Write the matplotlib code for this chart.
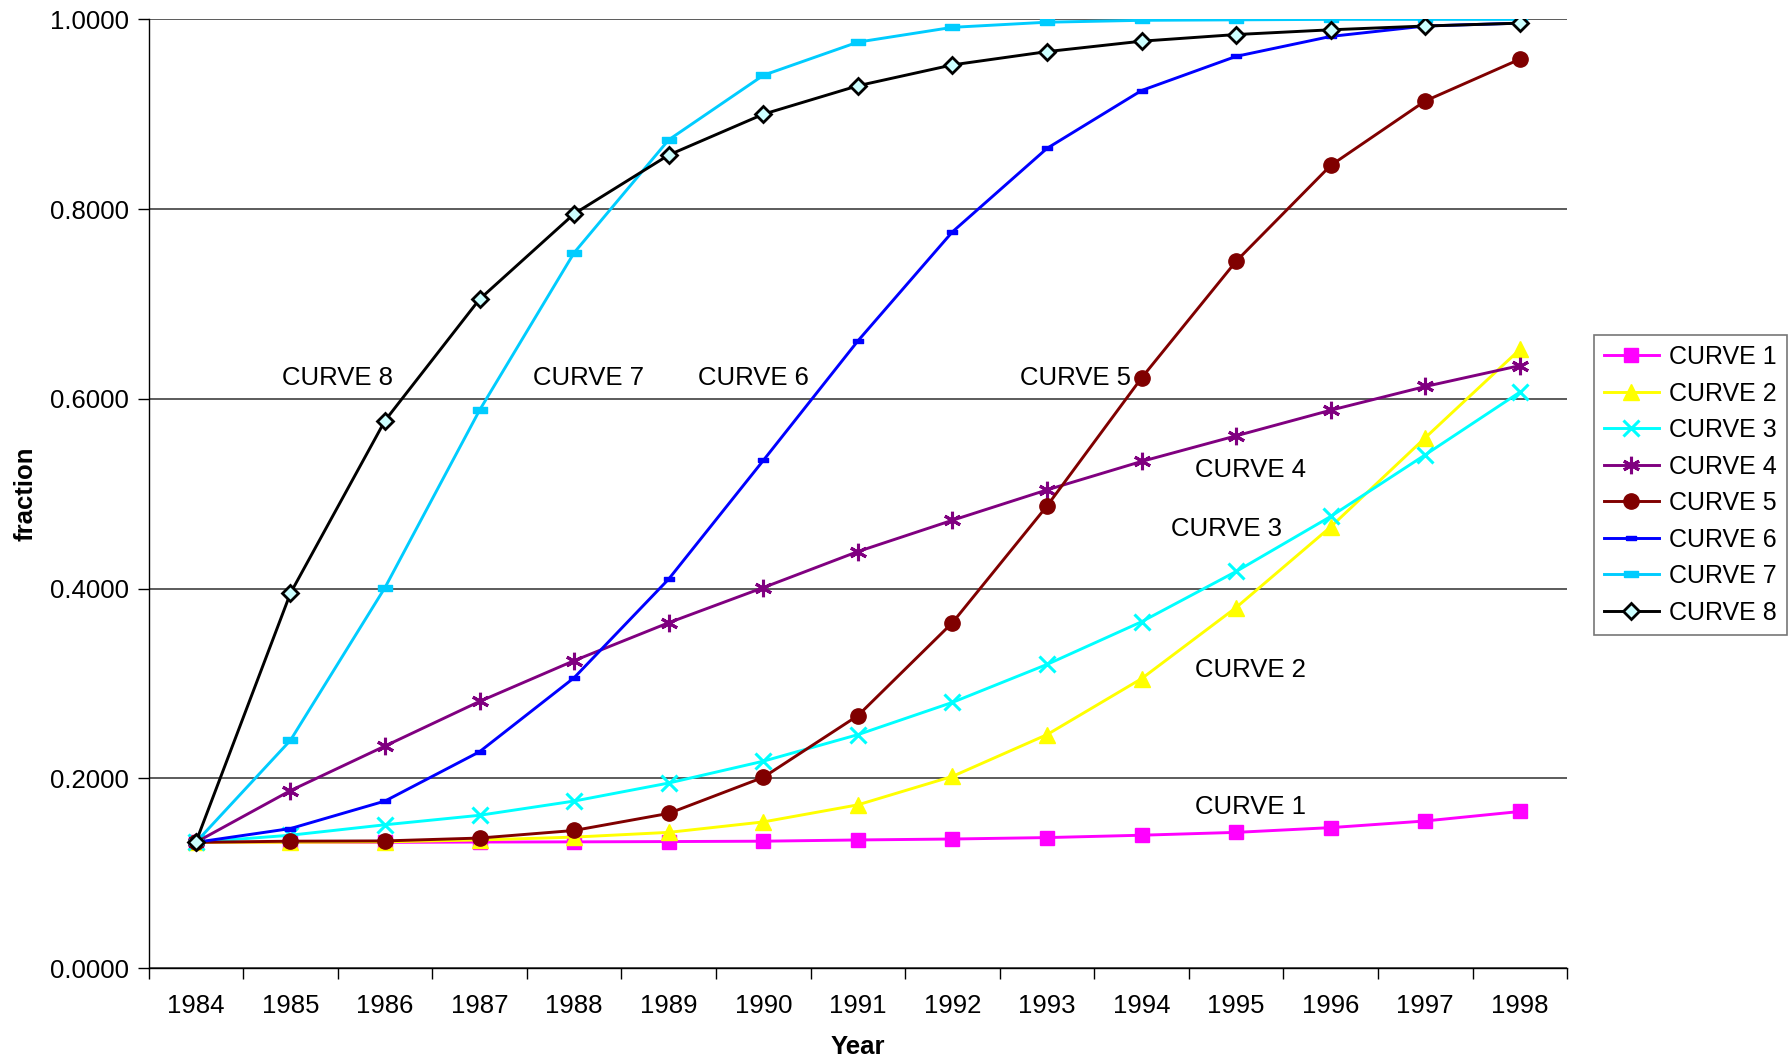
import matplotlib
matplotlib.use("Agg")
import matplotlib.pyplot as plt

plt.rcParams['font.family'] = ['Liberation Sans', 'DejaVu Sans']

years = ['1984', '1985', '1986', '1987', '1988', '1989', '1990', '1991',
         '1992', '1993', '1994', '1995', '1996', '1997', '1998']

curve1 = [0.1325, 0.1325, 0.1325, 0.1328, 0.1330, 0.1333, 0.1337, 0.1350,
          0.1360, 0.1375, 0.1400, 0.1430, 0.1480, 0.1550, 0.1650]
curve2 = [0.1325, 0.1325, 0.1330, 0.1350, 0.1380, 0.1430, 0.1540, 0.1720,
          0.2020, 0.2460, 0.3050, 0.3800, 0.4650, 0.5590, 0.6520]
curve3 = [0.1325, 0.1400, 0.1510, 0.1610, 0.1760, 0.1950, 0.2180, 0.2460,
          0.2800, 0.3200, 0.3650, 0.4180, 0.4760, 0.5410, 0.6070]
curve4 = [0.1325, 0.1870, 0.2340, 0.2810, 0.3240, 0.3640, 0.4010, 0.4390,
          0.4720, 0.5040, 0.5340, 0.5610, 0.5880, 0.6130, 0.6350]
curve5 = [0.1325, 0.1337, 0.1340, 0.1370, 0.1450, 0.1630, 0.2010, 0.2660,
          0.3640, 0.4870, 0.6220, 0.7450, 0.8460, 0.9140, 0.9580]
curve6 = [0.1325, 0.1470, 0.1760, 0.2280, 0.3060, 0.4100, 0.5350, 0.6610,
          0.7760, 0.8640, 0.9250, 0.9610, 0.9820, 0.9930, 0.9960]
curve7 = [0.1325, 0.2400, 0.4010, 0.5880, 0.7540, 0.8730, 0.9410, 0.9760,
          0.9916, 0.9970, 0.9990, 0.9995, 1.0000, 1.0000, 1.0000]
curve8 = [0.1325, 0.3950, 0.5770, 0.7050, 0.7950, 0.8570, 0.9000, 0.9300,
          0.9520, 0.9660, 0.9770, 0.9840, 0.9890, 0.9930, 0.9960]

names = ['CURVE 1', 'CURVE 2', 'CURVE 3', 'CURVE 4',
         'CURVE 5', 'CURVE 6', 'CURVE 7', 'CURVE 8']

# labels written inside the plot: x in category units, y in data units
label_x = [11.15, 11.15, 10.9, 11.15, 9.3, 5.9, 4.15, 1.5]
label_y = [0.170, 0.314, 0.463, 0.525, 0.622, 0.622, 0.622, 0.622]

dash = [(-1, -0.4), (1, -0.4), (1, 0.4), (-1, 0.4), (-1, -0.4)]

styles = [
    dict(color='#FF00FF', marker='s', ms=10.5, mec='#FF00FF', mfc='#FF00FF'),
    dict(color='#FFFF00', marker='^', ms=11, mec='#FFFF00', mfc='#FFFF00'),
    dict(color='#00FFFF', marker='x', ms=11.5, mew=2.2),
    dict(color='#800080', marker=(6, 2, 0), ms=12.5, mew=2.2),
    dict(color='#800000', marker='o', ms=11),
    dict(color='#0000FF', marker=dash, ms=7),
    dict(color='#00CCFF', marker=dash, ms=10),
    dict(color='#000000', marker='D', ms=8, mfc='#CCFFFF', mec='#000000', mew=2),
]

fig = plt.figure(figsize=(17.92, 10.64), dpi=100)
ax = fig.add_axes([0.0829, 0.0902, 0.8745 - 0.0829, 0.9818 - 0.0902])

x = list(range(len(years)))
series = [curve1, curve2, curve3, curve4, curve5, curve6, curve7, curve8]
for i, (vals, st) in enumerate(zip(series, styles)):
    ax.plot(x, vals, lw=2.1, label=names[i], zorder=3 + i, **st)

for name, lx, ly in zip(names, label_x, label_y):
    ax.text(lx, ly, name, ha='center', va='center', fontsize=18.5, zorder=20)

ax.set_xlim(-0.5, len(years) - 0.5)
ax.set_ylim(0, 1.0)
ax.set_xticks(x)
ax.set_xticklabels(years, fontsize=18.5)
ax.set_xticks([i - 0.5 for i in range(len(years) + 1)], minor=True)
ax.tick_params(axis='x', which='major', length=0, pad=19)
ax.tick_params(axis='x', which='minor', length=8, width=1, direction='out')
ax.set_yticks([0, 0.2, 0.4, 0.6, 0.8, 1.0])
ax.set_yticklabels(['%.4f' % v for v in [0, 0.2, 0.4, 0.6, 0.8, 1.0]], fontsize=18.5)
ax.tick_params(axis='y', length=8, width=1, direction='out', pad=6)

ax.grid(axis='y', color='#404040', lw=1.2)
ax.set_axisbelow(True)
for s in ['top', 'right']:
    ax.spines[s].set_visible(False)
ax.spines['left'].set_linewidth(1)
ax.spines['bottom'].set_linewidth(1)

ax.set_xlabel('Year', fontsize=18.5, fontweight='bold', labelpad=12)
ax.set_ylabel('fraction', fontsize=18.5, fontweight='bold', va='center')
ax.yaxis.set_label_coords(-0.087, 0.5)

leg = ax.legend(loc='upper left', bbox_to_anchor=(0.8895, 0.6851),
                bbox_transform=fig.transFigure, borderaxespad=0,
                fontsize=18, frameon=True, fancybox=False, handlelength=2.2,
                labelspacing=0.5, borderpad=0.4, handletextpad=0.4)
leg.get_frame().set_edgecolor('#555555')
leg.get_frame().set_linewidth(1.2)

fig.savefig('out.png', dpi=100)
